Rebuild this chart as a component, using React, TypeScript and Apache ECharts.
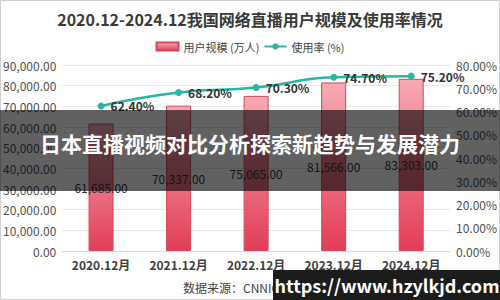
import React, { useEffect, useRef } from "react";
import * as echarts from "echarts";

const categories = ["2020.12月", "2021.12月", "2022.12月", "2023.12月", "2024.12月"];
const userScale = [61685, 70337, 75065, 81566, 83303];
const usageRate = [62.4, 68.2, 70.3, 74.7, 75.2];
const titleText = "2020.12-2024.12我国网络直播用户规模及使用率情况";
const overlayText = "日本直播视频对比分析探索新趋势与发展潜力";
const sourceText = "数据来源：CNNIC 中研普华整理";
const siteText = "https://www.hzylkjd.com";

const FONT = "'Noto Sans CJK SC', 'Noto Sans', sans-serif";

export default function App() {
  const ref = useRef<HTMLDivElement>(null);
  useEffect(() => {
    if (!ref.current) return;
    const chart = echarts.init(ref.current, null, { renderer: "svg" });
    chart.setOption({
      animation: false,
      backgroundColor: "#ffffff",
      textStyle: { fontFamily: FONT },
      title: {
        text: titleText,
        left: "center",
        top: 6,
        textStyle: { fontSize: 16, fontWeight: "bold", color: "#3a3a3a", fontFamily: FONT },
      },
      legend: {
        top: 36,
        left: "center",
        itemWidth: 22,
        itemHeight: 8,
        itemGap: 4,
        textStyle: { fontSize: 11, color: "#444", fontFamily: FONT },
        data: [
          { name: "用户规模 (万人)", icon: "rect" },
          { name: "使用率 (%)" },
        ],
      },
      grid: { left: 61, right: 50, top: 65, bottom: 49 },
      xAxis: {
        type: "category",
        data: categories,
        axisLine: { lineStyle: { color: "#d9d9d9" } },
        axisTick: { show: false },
        axisLabel: { color: "#404040", fontSize: 12, fontWeight: "bold", margin: 7, fontFamily: FONT },
      },
      yAxis: [
        {
          type: "value",
          min: 0,
          max: 90000,
          interval: 10000,
          axisLine: { show: false },
          axisTick: { show: false },
          splitLine: { lineStyle: { color: "#e8e8e8" } },
          axisLabel: {
            color: "#505050",
            fontSize: 12,
            margin: 6,
            fontFamily: FONT,
            formatter: (v: number) =>
              v.toLocaleString("en-US", { minimumFractionDigits: 2, maximumFractionDigits: 2 }),
          },
        },
        {
          type: "value",
          min: 0,
          max: 80,
          interval: 10,
          axisLine: { show: false },
          axisTick: { show: false },
          splitLine: { show: false },
          axisLabel: {
            color: "#505050",
            fontSize: 12,
            margin: 6,
            fontFamily: FONT,
            formatter: (v: number) => v.toFixed(2) + "%",
          },
        },
      ],
      series: [
        {
          name: "用户规模 (万人)",
          type: "bar",
          data: userScale,
          barWidth: 25,
          itemStyle: {
            color: new echarts.graphic.LinearGradient(0, 0, 0, 1, [
              { offset: 0, color: "#f6aab4" },
              { offset: 1, color: "#e23d57" },
            ]),
            borderColor: "#d4475c",
            borderWidth: 1,
          },
          label: {
            show: true,
            position: "inside",
            color: "#333",
            fontSize: 12,
            fontFamily: FONT,
            formatter: (p: any) =>
              Number(p.value).toLocaleString("en-US", { minimumFractionDigits: 2, maximumFractionDigits: 2 }),
          },
        },
        {
          name: "使用率 (%)",
          type: "line",
          yAxisIndex: 1,
          data: usageRate,
          smooth: true,
          symbol: "circle",
          symbolSize: 7,
          lineStyle: { color: "#2cb5a6", width: 2.5 },
          itemStyle: { color: "#2cb5a6" },
          label: {
            show: true,
            position: "right",
            distance: 6,
            color: "#333",
            fontSize: 12,
            fontWeight: "bold",
            fontFamily: FONT,
            formatter: (p: any) => Number(p.value).toFixed(2) + "%",
          },
        },
      ],
      graphic: [
        {
          type: "rect",
          z: 100,
          shape: { x: 0.5, y: 0.5, width: 499, height: 299 },
          style: { fill: "none", stroke: "#d0d0d0", lineWidth: 1 },
        },
        {
          type: "text",
          z: 100,
          x: 183,
          y: 287,
          style: { text: sourceText, fill: "#444", fontSize: 12, fontFamily: FONT, verticalAlign: "middle" },
        },
        {
          type: "rect",
          z: 200,
          shape: { x: 0, y: 110, width: 500, height: 81 },
          style: { fill: "rgba(0,0,0,0.62)" },
        },
        {
          type: "text",
          z: 201,
          x: 250,
          y: 143,
          style: {
            text: overlayText,
            fill: "#ffffff",
            fontSize: 21,
            fontWeight: "bold",
            fontFamily: FONT,
            align: "center",
            verticalAlign: "middle",
          },
        },
        {
          type: "rect",
          z: 200,
          shape: { x: 273, y: 270, width: 227, height: 30 },
          style: { fill: "#1c1c1c" },
        },
        {
          type: "text",
          z: 201,
          x: 387,
          y: 285,
          style: {
            text: siteText,
            fill: "#ffffff",
            fontSize: 18,
            fontWeight: "bold",
            fontFamily: FONT,
            align: "center",
            verticalAlign: "middle",
          },
        },
      ],
    });
    return () => chart.dispose();
  }, []);
  return <div ref={ref} style={{ width: 500, height: 300, position: "absolute", left: 0, top: 0 }} />;
}
